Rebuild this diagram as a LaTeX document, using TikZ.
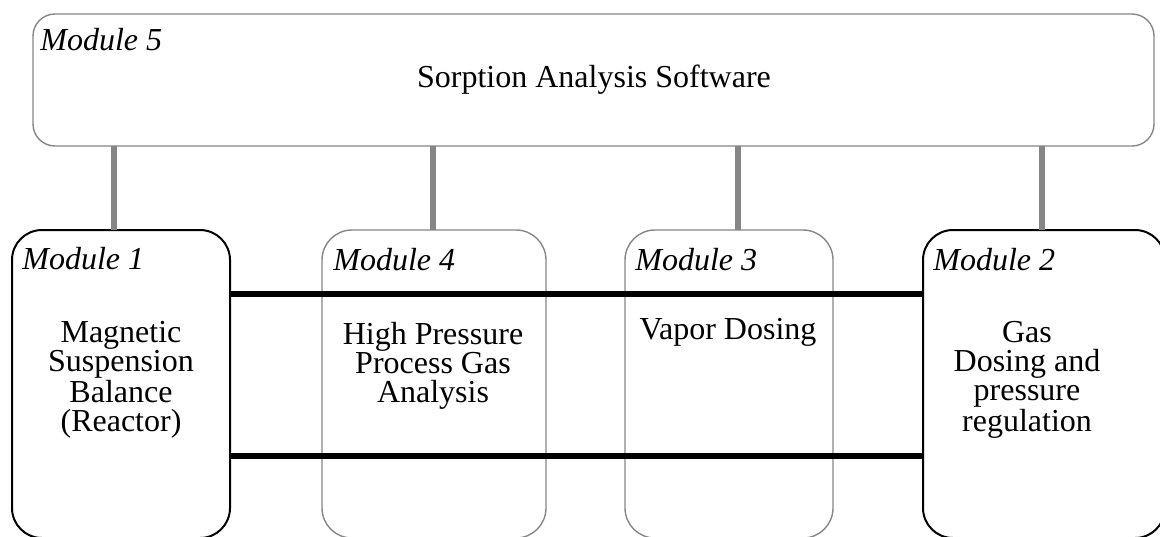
\documentclass[tikz,border=0pt]{standalone}
\usepackage{fontspec}
\setmainfont{Liberation Serif}
\usetikzlibrary{positioning}

\begin{document}
\begin{tikzpicture}[x=0.5pt,y=-0.5pt]
				\tikzset{modbox/.style={
						draw,
						rectangle,
						rounded corners=15pt,
						inner sep=0pt,
						outer sep=0pt,
						anchor=north west,
						minimum height=154pt
					},
					mainmod/.style={modbox, black, line width=1pt},
					submod/.style={modbox, gray!95, line width=0.7pt},
					link/.style={line width=2.8pt, gray!95},
					bus/.style={line width=3pt, black},
					modname/.style={anchor=base west, inner sep=0pt, font=\fontsize{16}{14.5}\selectfont\itshape},
					modtext/.style={align=center, inner sep=0pt, font=\fontsize{16}{14.5}\selectfont}
				}
				\clip (0,0) rectangle (1160,536);
				
				%% SOFTWARE
				\node[draw, gray!95, line width=0.7pt, rounded corners=11pt, inner sep=0pt, outer sep=0pt,
					anchor=north west, minimum width=560.5pt, minimum height=66pt] (m5) at (33,14) {};
				\node[modname] (m5name) at (40,50) {Module 5};
				\node[modtext, anchor=base] (m5text) at (594,87) {Sorption Analysis Software};
				
				%% MODULES
				\node[mainmod, minimum width=109pt] (m1) at (12,230) {};
				\node[submod, minimum width=112pt] (m4) at (322,230) {};
				\node[submod, minimum width=104pt] (m3) at (625,230) {};
				\node[mainmod, minimum width=121pt] (m2) at (923,230) {};
				
				\node[modname] (m1name) at (22,269) {Module 1};
				\node[modname] (m4name) at (333,270) {Module 4};
				\node[modname] (m3name) at (635,270) {Module 3};
				\node[modname] (m2name) at (933,270) {Module 2};
				
				\node[modtext] (m1text) at (121,380) {Magnetic\\Suspension\\Balance\\(Reactor)};
				\node[modtext] (m4text) at (433,366) {High Pressure\\Process Gas\\Analysis};
				\node[modtext, anchor=base] (m3text) at (728,339) {Vapor Dosing};
				\node[modtext] (m2text) at (1027,380) {Gas\\Dosing and\\pressure\\regulation};
				
				%% LINKS
				\coordinate (upper) at (0,294);
				\coordinate (lower) at (0,456);
				\draw[link] (m5.south -| 114,0) -- (m1.north -| 114,0);
				\draw[link] (m5.south -| 433,0) -- (m4.north -| 433,0);
				\draw[link] (m5.south -| 738,0) -- (m3.north -| 738,0);
				\draw[link] (m5.south -| 1042,0) -- (m2.north -| 1042,0);
				\draw[bus] (m1.east |- upper) -- (m2.west |- upper);
				\draw[bus] (m1.east |- lower) -- (m2.west |- lower);
				
\end{tikzpicture}
\end{document}
